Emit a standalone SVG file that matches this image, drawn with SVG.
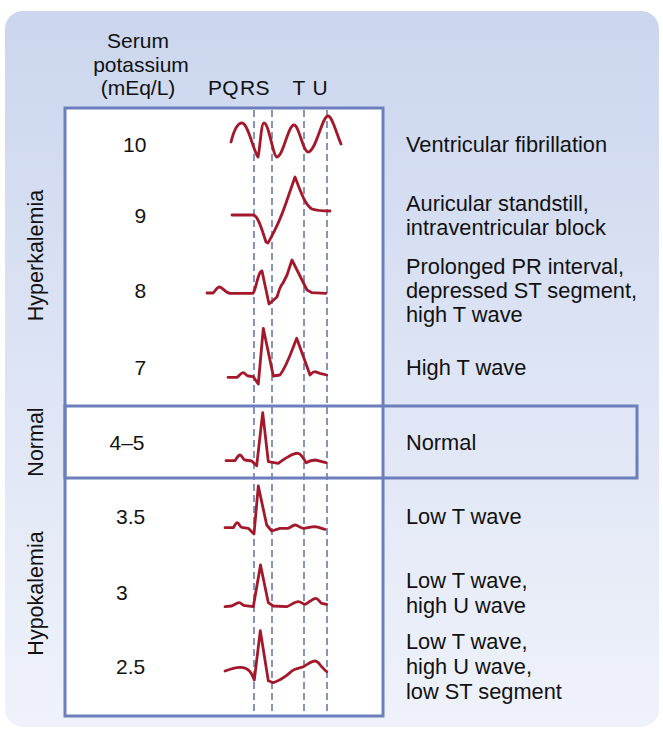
<svg xmlns="http://www.w3.org/2000/svg" width="663" height="731" viewBox="0 0 663 731">
<defs>
<linearGradient id="bg" x1="0" y1="0" x2="0" y2="1">
<stop offset="0" stop-color="#cbd6ee"/>
<stop offset="1" stop-color="#eff2fa"/>
</linearGradient>
</defs>
<style>
text{font-family:"Liberation Sans",Arial,Helvetica,sans-serif;fill:#111;}
.hd{font-size:21px;text-anchor:middle;}
.num{font-size:21px;}
.desc{font-size:21.8px;}
.side{font-size:21.5px;text-anchor:middle;}
.box{fill:none;stroke:#6d7ebd;stroke-width:3;}
.dash{stroke:#6b7ba6;stroke-width:1.6;stroke-dasharray:7 4;fill:none;}
.ecg{fill:none;stroke:#a3182b;stroke-width:2.8;stroke-linejoin:round;stroke-linecap:round;}
</style>
<rect x="5" y="11" width="654" height="716" rx="18" fill="url(#bg)"/>
<rect x="65" y="108" width="318" height="608" fill="#ffffff"/>

<g id="header">
<text class="hd" x="138" y="48">Serum</text>
<text class="hd" x="141" y="72">potassium</text>
<text class="hd" x="138" y="95">(mEq/L)</text>
<text class="hd" x="215" y="95">P</text>
<text class="hd" x="230.5" y="95">Q</text>
<text class="hd" x="247.5" y="95">R</text>
<text class="hd" x="262.5" y="95">S</text>
<text class="hd" x="299" y="95">T</text>
<text class="hd" x="320" y="95">U</text>
</g>

<g id="connectors">
<line class="dash" x1="254" y1="110" x2="254" y2="715"/>
<line class="dash" x1="272" y1="110" x2="272" y2="715"/>
<line class="dash" x1="304" y1="110" x2="304" y2="715"/>
<line class="dash" x1="327" y1="110" x2="327" y2="715"/>
</g>

<g id="frames">
<rect class="box" x="65" y="108" width="318" height="608"/>
<rect class="box" x="65" y="406" width="572" height="72"/>
</g>

<g id="side-labels">
<text class="side" transform="translate(43,255.5) rotate(-90)">Hyperkalemia</text>
<text class="side" transform="translate(43,442) rotate(-90)">Normal</text>
<text class="side" transform="translate(43,593.5) rotate(-90)">Hypokalemia</text>
</g>

<g id="row-10">
<text class="num" x="123" y="152">10</text>
<path class="ecg" d="M231,142 C234,130 238,123 242,123 C248,123 253,150 258,157 C260,150 261,123 264,123 C269,123 273,157 277,157 C283,157 288,125 294,125 C299,125 303,152 308,152 C316,152 322,116 328,116 C332,116 336,132 341,144"/>
<text class="desc" x="406" y="152">Ventricular fibrillation</text>
</g>

<g id="row-9">
<text class="num" x="134.5" y="223">9</text>
<path class="ecg" d="M232,215 L253,215 C258,215 262,230 266,242 L268,243 C273,234 279,224 286,203 L295,177 C300,190 305,205 312,209 C318,211 324,211 330,211"/>
<text class="desc" x="406" y="211">Auricular standstill,</text>
<text class="desc" x="406" y="235">intraventricular block</text>
</g>

<g id="row-8">
<text class="num" x="134.5" y="298">8</text>
<path class="ecg" d="M207,293 L213,293 C216,290 217,287 219.5,287 C222,287 226,293 230,293.3 L253,293.3 C256,290 258,271 262,271 L269,304 L277,297 C279,290 281,285 283,283 L287,275 L292,260 L307,290 L312,292.7 L326,293.3"/>
<text class="desc" x="406" y="274">Prolonged PR interval,</text>
<text class="desc" x="406" y="298">depressed ST segment,</text>
<text class="desc" x="406" y="322">high T wave</text>
</g>

<g id="row-7">
<text class="num" x="134.5" y="375">7</text>
<path class="ecg" d="M228,377.3 L237,377.3 C240,375 241,372.7 243.3,372.7 C245,372.7 246,376 248.3,376 L253.3,376.7 L258.3,384 L263.3,328.3 L273.3,376 L280,375 C287,366 292,350 296.7,338.3 L310,375 C312,373 313,371.7 315,371.7 L320,373.3 L326.7,375"/>
<text class="desc" x="406" y="375">High T wave</text>
</g>

<g id="row-normal">
<text class="num" x="109.5" y="450">4–5</text>
<path class="ecg" d="M226,460.7 L235,460.7 C237,458 238,455 240,455 C242,455 243,460 245,460 L251.7,461 L256.7,465.7 L262.7,412.7 L268.3,461.7 L278.3,463.3 C282,461 285,458 288.3,456.7 C292,454.5 296,453 298.3,453.3 C301,454 303,457 306,462.7 C309,461 312,460 315,460 C319,460.5 322,462 326,462.7"/>
<text class="desc" x="406" y="450">Normal</text>
</g>

<g id="row-3-5">
<text class="num" x="116" y="523.5">3.5</text>
<path class="ecg" d="M225,527.7 L233.3,527.7 C235,525 236,522.7 237.3,522.7 C239,522.7 240,527.3 241.7,527.3 L248.3,528.3 L254,534 L258.3,486 L266.7,525 L271.7,531 L280,528.3 L288.3,528.3 C291,527 293,525 295,525 C298,525 300,528 303.3,528.3 C307,528 311,526.7 315,526.7 C319,527 322,529 325,529.3"/>
<text class="desc" x="406" y="524">Low T wave</text>
</g>

<g id="row-3">
<text class="num" x="116" y="599.5">3</text>
<path class="ecg" d="M225,606.7 L231.7,606 C234,605 237,602.7 239.3,602.7 C241,602.7 243,605.7 245,605.7 L253.3,606.7 L260.5,565 L268.3,602.7 L273.3,606 L286.7,606.7 C291,605 295,601.7 298.3,601.7 C301,601.7 303,604.3 305,604.3 C309,603 312,598.3 316,598.3 C318,598.3 320,603 321.7,603.3 L326.7,604.3"/>
<text class="desc" x="406" y="588">Low T wave,</text>
<text class="desc" x="406" y="612.5">high U wave</text>
</g>

<g id="row-2-5">
<text class="num" x="116" y="674">2.5</text>
<path class="ecg" d="M225,671 C230,669 235,667.3 240,667.3 C244,667.3 248,669 250,671.7 C252,674 253,677 254.3,680 L260.3,630.7 L268.3,680.7 L273.3,682.7 C278,681 282,679 285,676.7 C289,674 292,670 295,669.3 C298,668 301,667.5 303.3,666.7 C307,665 311,661 315,661 C318,661 320,665 321.7,666.7 C323,668 325,670.5 326.7,671.7"/>
<text class="desc" x="406" y="648.5">Low T wave,</text>
<text class="desc" x="406" y="673.5">high U wave,</text>
<text class="desc" x="406" y="698.5">low ST segment</text>
</g>
</svg>
